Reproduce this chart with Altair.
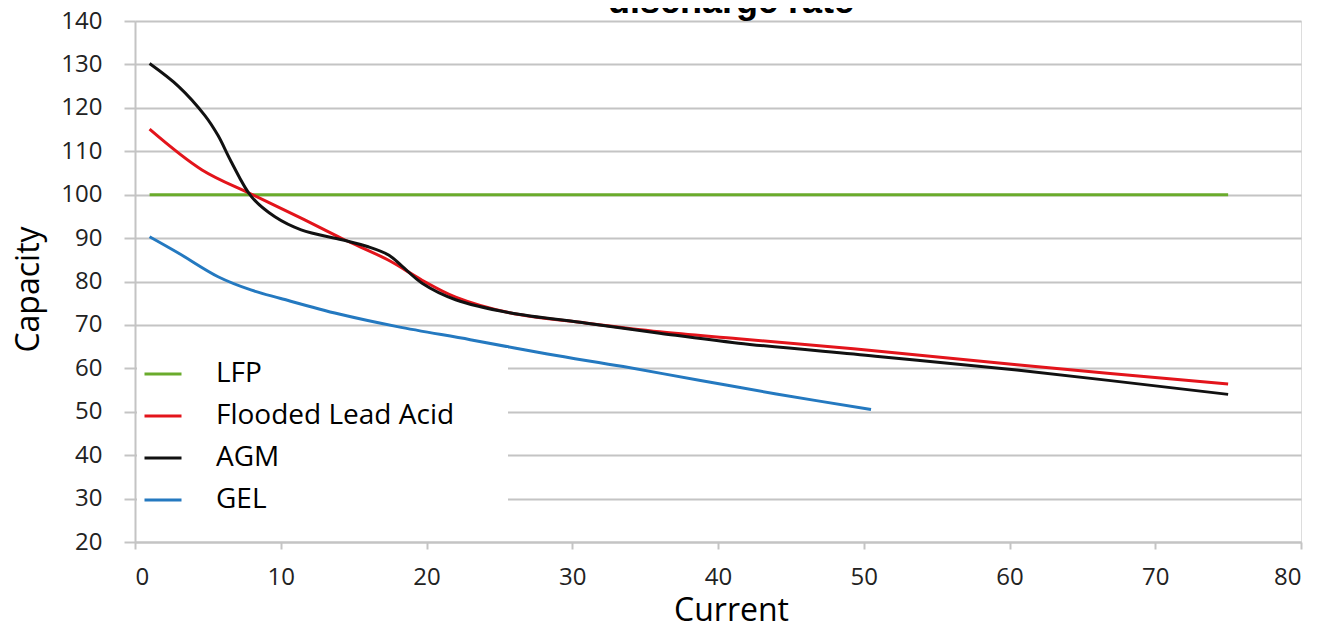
import altair as alt
import pandas as pd

# ---- data ----
lfp_x = [1, 75]
lfp_y = [100, 100]

fla_x = [1, 4.6, 8, 11.4, 14.2, 17.4, 19.7, 22, 25.7, 31, 36, 41.4, 50, 60.5, 75]
fla_y = [115.1, 105.7, 100.1, 94.6, 89.9, 84.9, 80.3, 76.4, 72.8, 70.4, 68.4, 66.8, 64.3, 60.8, 56.4]

agm_x = [1, 3, 4.8, 5.7, 6.6, 8, 9.6, 11.4, 14.2, 16, 17.4, 18.3, 19.7, 22, 25.7, 31, 36, 41.4, 50.8, 60.5, 75]
agm_y = [130.2, 124.9, 118.2, 113.6, 107.6, 99.5, 94.9, 91.9, 89.6, 88.0, 86.1, 83.6, 79.6, 75.8, 72.8, 70.4, 68.1, 65.8, 62.8, 59.6, 54.0]

gel_x = [1, 3, 5.7, 8, 10, 14, 18, 23, 28.3, 33.5, 38.8, 44, 50.5]
gel_y = [90.3, 86.5, 81.1, 78.0, 76.1, 72.5, 69.6, 66.6, 63.3, 60.4, 57.2, 54.1, 50.5]

series = ["LFP", "Flooded Lead Acid", "AGM", "GEL"]
colors = ["#6aab2c", "#e3141b", "#111111", "#2479c0"]
x_ticks = list(range(0, 81, 10))
y_ticks = list(range(20, 141, 10))

rows = []
for name, xs, ys in [("LFP", lfp_x, lfp_y), ("Flooded Lead Acid", fla_x, fla_y),
                     ("AGM", agm_x, agm_y), ("GEL", gel_x, gel_y)]:
    for i, (a, b) in enumerate(zip(xs, ys)):
        rows.append({"series": name, "current": a, "capacity": b, "order": i})
df = pd.DataFrame(rows)

FONT = "Open Sans"
GRID = "#c4c4c4"

chart = alt.Chart(df).mark_line(strokeWidth=3, interpolate="catmull-rom").encode(
    x=alt.X("current:Q", scale=alt.Scale(domain=[0, 80], nice=False, zero=False),
            axis=alt.Axis(values=x_ticks, grid=False, tickSize=7, tickColor=GRID, tickWidth=2,
                          domainColor=GRID, domainWidth=2, labelFont=FONT, labelFontSize=24,
                          labelColor="#222222", labelPadding=16, title="Current",
                          titleFont=FONT, titleFontSize=32, titleFontWeight="normal",
                          titleColor="#000000", titleX=596, titleY=78, titleAlign="center",
                          titleBaseline="alphabetic")),
    y=alt.Y("capacity:Q", scale=alt.Scale(domain=[20, 140], nice=False, zero=False),
            axis=alt.Axis(values=y_ticks, grid=True, gridColor=GRID, gridWidth=2, tickSize=11,
                          tickColor=GRID, tickWidth=2, domainColor=GRID, domainWidth=2,
                          labelFont=FONT, labelFontSize=24, labelColor="#222222", labelPadding=22,
                          title="Capacity", titleFont=FONT, titleFontSize=32,
                          titleFontWeight="normal", titleColor="#000000", titleAngle=270,
                          titleX=-97, titleY=268, titleAlign="center",
                          titleBaseline="alphabetic")),
    color=alt.Color("series:N", scale=alt.Scale(domain=series, range=colors),
                    legend=alt.Legend(title="\u00a0", titleOrient="right", titlePadding=48,
                                      titleFontSize=2, orient="none", legendX=2, legendY=327,
                                      fillColor="white", padding=6, symbolType="stroke",
                                      symbolSize=1369, symbolStrokeWidth=3, labelFont=FONT,
                                      labelFontSize=28, labelColor="#000000", labelOffset=33,
                                      rowPadding=8, labelLimit=600)),
    detail="series:N",
    order="order:Q",
).properties(
    width=1166,
    height=521,
    title=alt.TitleParams("discharge rate", font="Liberation Sans", fontSize=36,
                          fontWeight="bold", color="#000000", anchor="middle", dx=13,
                          baseline="alphabetic", offset=-40),
    autosize=alt.AutoSizeParams(type="none"),
    padding={"left": 127, "top": 13, "right": 13, "bottom": 79},
).configure_view(stroke=None).configure(background="white")

chart.save("out.html", embed_options={"renderer": "svg", "actions": False})
